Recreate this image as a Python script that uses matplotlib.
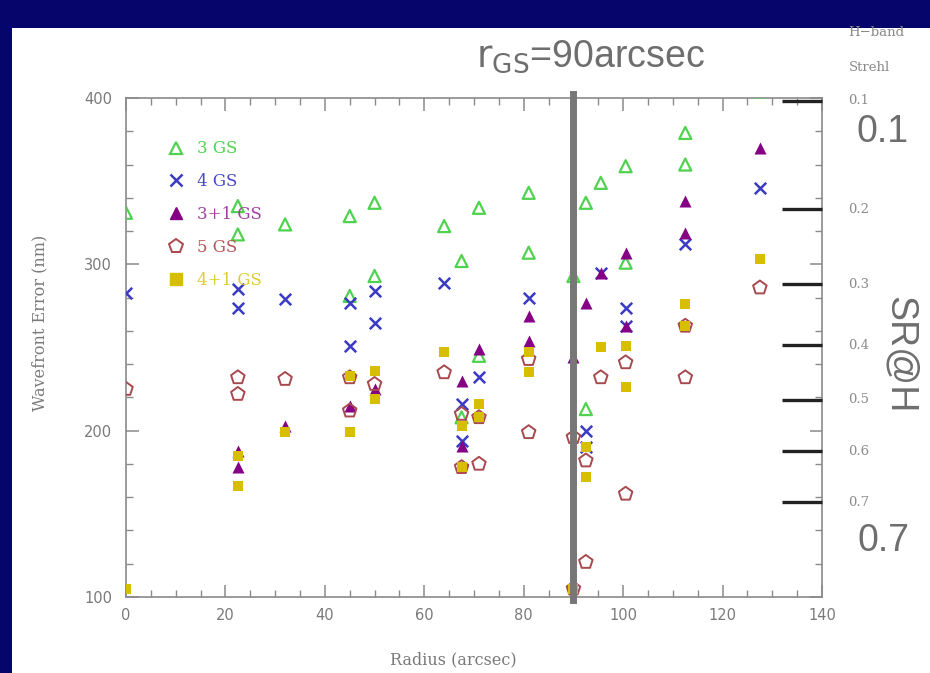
import numpy as np
import matplotlib
matplotlib.use("Agg")
import matplotlib.pyplot as plt
from matplotlib.lines import Line2D
from matplotlib.patches import Rectangle
import matplotlib.transforms as mtransforms

plt.rcParams['mathtext.fontset'] = 'custom'
plt.rcParams['mathtext.rm'] = 'Liberation Sans Narrow'
plt.rcParams['mathtext.it'] = 'Liberation Sans Narrow'

# ---- data: wavefront error (nm) versus field radius (arcsec) ----
gs3_r = [0, 22.5, 22.5, 32, 45, 45, 50, 50, 64, 67.5, 67.5, 71, 71, 81, 81,
         90, 92.5, 92.5, 95.5, 100.5, 100.5, 112.5, 112.5, 127.5]
gs3_w = [331, 335, 318, 324, 329, 281, 337, 293, 323, 302, 208, 334, 245, 343, 307,
         293, 337, 213, 349, 359, 301, 379, 360, 404]

gs4_r = [0, 22.5, 22.5, 32, 45, 45, 50, 50, 64, 67.5, 67.5, 71, 81,
         92.5, 92.5, 95.5, 100.5, 100.5, 112.5, 127.5]
gs4_w = [283, 285, 274, 279, 277, 251, 284, 265, 289, 216, 194, 232, 280,
         200, 190, 295, 274, 263, 312, 346]

gs31_r = [22.5, 22.5, 32, 45, 50, 67.5, 67.5, 71, 81, 81, 90, 92.5, 95.5,
          100.5, 100.5, 112.5, 112.5, 127.5]
gs31_w = [188, 178, 203, 215, 225, 230, 191, 249, 269, 254, 244, 277, 295,
          307, 263, 338, 319, 370]

gs5_r = [0, 22.5, 22.5, 32, 45, 45, 50, 64, 67.5, 67.5, 71, 71, 81, 81, 90, 90,
         92.5, 92.5, 95.5, 100.5, 100.5, 112.5, 112.5, 127.5]
gs5_w = [225, 232, 222, 231, 232, 212, 228, 235, 210, 178, 208, 180, 243, 199, 196, 105,
         182, 121, 232, 241, 162, 263, 232, 286]

gs41_r = [0, 22.5, 22.5, 32, 45, 45, 50, 50, 64, 67.5, 67.5, 71, 71, 81, 81, 90,
          92.5, 92.5, 95.5, 100.5, 100.5, 112.5, 112.5, 127.5]
gs41_w = [105, 185, 167, 199, 233, 199, 236, 219, 247, 203, 178, 216, 208, 247, 235, 105,
          190, 172, 250, 251, 226, 276, 263, 303]

legend_labels = ["3 GS", "4 GS", "3+1 GS", "5 GS", "4+1 GS"]
strehl_values = [0.1, 0.2, 0.3, 0.4, 0.5, 0.6, 0.7]
x_ticks = [0, 20, 40, 60, 80, 100, 120, 140]
y_ticks = [100, 200, 300, 400]
guide_radius = 90
wavelength_nm = 1650.0

navy = '#05056b'
gray = '#7a7a7a'
fig = plt.figure(figsize=(9.3, 6.73), dpi=100, facecolor=navy)
fig.patches.append(Rectangle((12 / 930, 0), 1, 1 - 28 / 673, transform=fig.transFigure,
                             facecolor='white', edgecolor='none', zorder=-10))

ax = fig.add_axes([126 / 930, 1 - 597 / 673, 696 / 930, 499 / 673])
ax.set_zorder(2)
ax.set_facecolor('none')
ax.set_xlim(0, 140)
ax.set_ylim(100, 400)

green, blue, purple, maroon, gold = '#4fd24f', '#3b3bc4', '#850085', '#a8494e', '#d8be00'
ms = 75
ax.scatter(gs3_r, gs3_w, marker='^', s=ms, facecolors='none', edgecolors=green, linewidths=1.6, zorder=3)
ax.scatter(gs4_r, gs4_w, marker='x', s=ms * 0.9, color=blue, linewidths=1.8, zorder=3)
ax.scatter(gs31_r, gs31_w, marker='^', s=ms, color=purple, linewidths=0, zorder=3)
ax.scatter(gs5_r, gs5_w, marker='p', s=ms * 1.4, facecolors='none', edgecolors=maroon, linewidths=1.4, zorder=3)
ax.scatter(gs41_r, gs41_w, marker='s', s=ms * 0.8, color=gold, linewidths=0, zorder=3)

# legend with coloured labels
handles = [
    Line2D([], [], ls='none', marker='^', ms=8.5, mfc='none', mec=green, mew=1.6),
    Line2D([], [], ls='none', marker='x', ms=8, color=blue, mew=1.8),
    Line2D([], [], ls='none', marker='^', ms=8.5, color=purple),
    Line2D([], [], ls='none', marker='p', ms=10, mfc='none', mec=maroon, mew=1.4),
    Line2D([], [], ls='none', marker='s', ms=8, color=gold),
]
text_colors = [green, '#4848c8', '#a040a0', '#b85858', '#e0cc30']
leg = ax.legend(handles, legend_labels, loc='upper left', bbox_to_anchor=(0.038, 0.945),
                frameon=False, handlelength=1.0, handletextpad=0.8, labelspacing=0.95,
                prop={'family': 'DejaVu Serif', 'size': 12})
for t, c in zip(leg.get_texts(), text_colors):
    t.set_color(c)

# axes styling
for sp in ax.spines.values():
    sp.set_color('#8a8a8a')
    sp.set_linewidth(1.2)
ax.set_xticks(x_ticks)
ax.set_yticks(y_ticks)
ax.set_xticks(np.arange(0, 141, 5), minor=True)
ax.set_yticks(np.arange(100, 401, 20), minor=True)
ax.tick_params(which='both', direction='in', top=True, right=True, colors='#8a8a8a',
               labelcolor=gray, labelsize=10.5)
ax.tick_params(which='major', length=9, width=1.1)
ax.tick_params(which='minor', length=5, width=1.0)
ax.tick_params(axis='x', pad=8)
ax.tick_params(axis='y', pad=10)
for lab in ax.get_xticklabels() + ax.get_yticklabels():
    lab.set_family('DejaVu Sans')

ax.set_xlabel('Radius (arcsec)', family='DejaVu Serif', fontsize=11.5, color=gray)
ax.set_ylabel('Wavefront Error (nm)', family='DejaVu Serif', fontsize=11.5, color=gray)
ax.xaxis.set_label_coords(0.47, -0.108)
ax.yaxis.set_label_coords(-0.112, 0.55)

# guide-star radius marker
ax.axvline(guide_radius, ymin=-0.006, ymax=1.008, color='#777777', lw=5, clip_on=False, zorder=4)

# H-band Strehl scale: SR = exp(-(2*pi*w/lambda)^2)
blend = mtransforms.blended_transform_factory(ax.transAxes, ax.transData)
for sr in strehl_values:
    w = wavelength_nm / (2 * np.pi) * np.sqrt(-np.log(sr))
    ax.plot([0.9425, 1.0], [w, w], transform=blend, color='#222222', lw=2.4,
            solid_capstyle='butt', clip_on=False, zorder=5)
    ax.text(1.038, w, f'{sr:.1f}', transform=blend, ha='left', va='center',
            family='DejaVu Serif', fontsize=9.5, color='#8a8a8a')

ax.text(1.038, 1.132, 'H\u2212band', transform=ax.transAxes, ha='left', va='center',
        family='DejaVu Serif', fontsize=9.5, color='#8a8a8a')
ax.text(1.038, 1.062, 'Strehl', transform=ax.transAxes, ha='left', va='center',
        family='DejaVu Serif', fontsize=9.5, color='#8a8a8a')

big = ['Liberation Sans Narrow', 'Liberation Sans']
fig.text(883 / 930, 1 - 132 / 673, '0.1', ha='center', va='center', family=big, fontsize=27, color='#6e6e6e')
fig.text(883 / 930, 1 - 541 / 673, '0.7', ha='center', va='center', family=big, fontsize=27, color='#6e6e6e')
fig.text(900 / 930, 1 - 355 / 673, 'SR@H', ha='center', va='center', rotation=270,
         family=big, fontsize=27, color='#6e6e6e')
fig.text(590 / 930, 1 - 57 / 673, r'$\mathrm{r}_{\mathrm{GS}}$=90arcsec', ha='center', va='center',
         family=big, fontsize=27, color='#6e6e6e')

fig.savefig('out.png', dpi=100, facecolor=navy)
